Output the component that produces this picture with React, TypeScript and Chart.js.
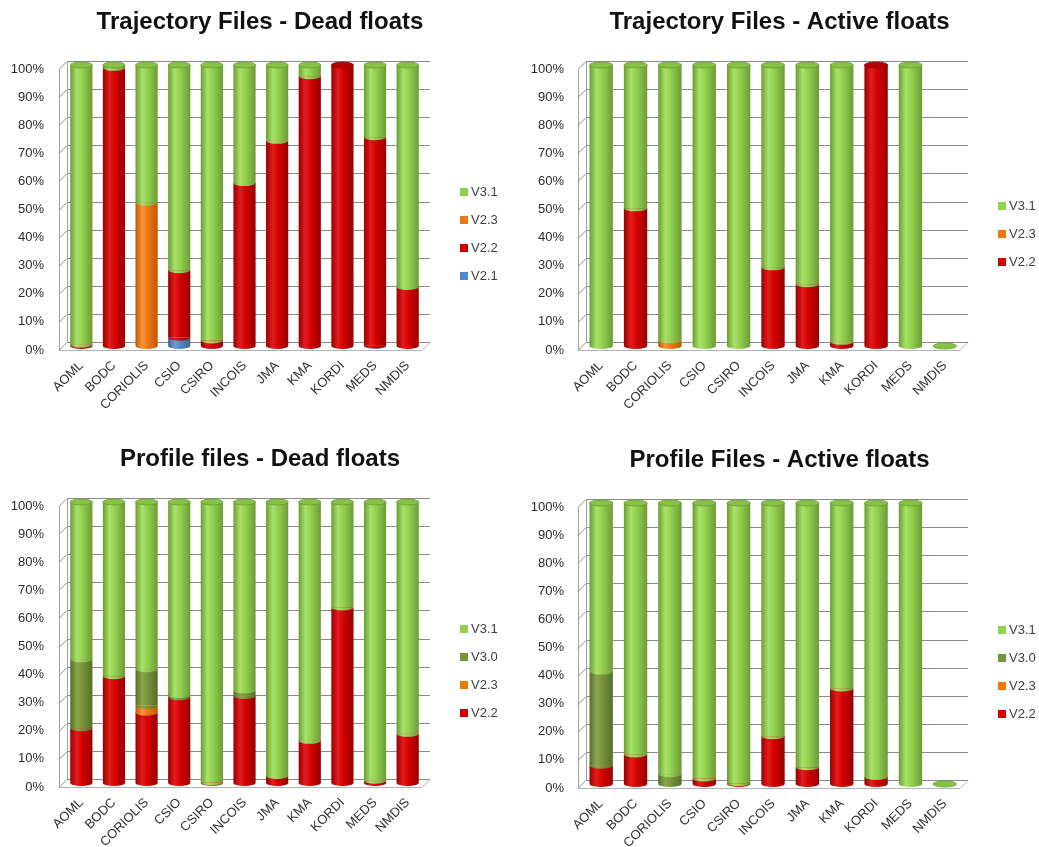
import React, { useEffect, useRef } from "react";
import { Chart, registerables } from "chart.js";

Chart.register(...registerables);

// ---------- DATA ----------
const CATEGORIES = ["AOML", "BODC", "CORIOLIS", "CSIO", "CSIRO", "INCOIS", "JMA", "KMA", "KORDI", "MEDS", "NMDIS"];
const Y_MAX = 100;
const Y_STEP = 10;

// Trajectory Files - Dead floats
const TD_V21 = [0, 0, 0, 3, 0, 0, 0, 0, 0, 0.3, 0];
const TD_V22 = [0.5, 99, 0, 24, 2, 58, 73, 96, 100, 74, 21];
const TD_V23 = [0, 0, 51, 0, 0, 0, 0, 0, 0, 0, 0];
const TD_V31 = [99.5, 1, 49, 73, 98, 42, 27, 4, 0, 25.7, 79];

// Trajectory Files - Active floats
const TA_V22 = [0, 49, 0, 0, 0, 28, 22, 1.5, 100, 0, 0];
const TA_V23 = [0, 0, 2, 0, 0, 0, 0, 0, 0, 0, 0];
const TA_V31 = [100, 51, 98, 100, 100, 72, 78, 98.5, 0, 100, 0];

// Profile files - Dead floats
const PD_V22 = [19.5, 38, 25, 30.5, 0.2, 31, 2.5, 15, 62.5, 0.8, 17.5];
const PD_V23 = [0, 0, 2.5, 0, 0, 0, 0, 0, 0, 0, 0];
const PD_V30 = [24.5, 0, 13, 0.8, 0, 2, 0, 0, 0, 0, 0];
const PD_V31 = [56, 62, 59.5, 68.7, 99.8, 67, 97.5, 85, 37.5, 99.2, 82.5];

// Profile Files - Active floats
const PA_V22 = [6.5, 10.5, 0, 2, 0.3, 17, 6, 34, 2.5, 0, 0];
const PA_V23 = [0, 0, 0, 0, 0, 0, 0, 0, 0, 0, 0];
const PA_V30 = [33.5, 0, 3.5, 0, 0, 0, 0, 0, 0, 0, 0];
const PA_V31 = [60, 89.5, 96.5, 98, 99.7, 83, 94, 66, 97.5, 100, 0];

// ---------- STYLE ----------
const FONT = "'Liberation Sans', Arial, sans-serif";
const BAR_FRACTION = 0.68;
const LABEL_SHIFT = 4; // tick labels sit at the front edge, bars at mid depth
const PLOT_TOP = 65;
const PLOT_BOTTOM = 346;

type Palette = { base: string; dark: string; light: string; cap: string; rim: string };
const PALETTES: Record<string, Palette> = {
  "V3.1": { base: "#92D050", dark: "#6C9C35", light: "#A8E268", cap: "#86C246", rim: "#6A9A32" },
  "V3.0": { base: "#77933C", dark: "#566D29", light: "#88A64A", cap: "#6E8A36", rim: "#566D29" },
  "V2.3": { base: "#EE7710", dark: "#C05800", light: "#F8923C", cap: "#E06A00", rim: "#B85200" },
  "V2.2": { base: "#D20000", dark: "#980000", light: "#E41C1C", cap: "#B80000", rim: "#900000" },
  "V2.1": { base: "#5088C8", dark: "#3A6597", light: "#6C9CD4", cap: "#4575AE", rim: "#365F8E" },
};

type Series = { label: string; values: number[] };

function makeGradient(ctx: CanvasRenderingContext2D, x0: number, x1: number, p: Palette) {
  const g = ctx.createLinearGradient(x0, 0, x1, 0);
  g.addColorStop(0, p.dark);
  g.addColorStop(0.3, p.light);
  g.addColorStop(0.55, p.base);
  g.addColorStop(1, p.dark);
  return g;
}

function barWidth(chart: any) {
  const xs = chart.scales.x;
  return (xs.width / CATEGORIES.length) * BAR_FRACTION;
}

// 3D-looking frame: back wall gridlines, left wall and floor
const framePlugin = {
  id: "frame3d",
  beforeDatasetsDraw(chart: any) {
    const { ctx, chartArea } = chart;
    const y = chart.scales.y;
    const FL = chartArea.left - 6;
    const DX = 8;
    const BR = chartArea.right + 6;
    ctx.save();
    ctx.lineWidth = 1;
    ctx.strokeStyle = "#8a8a8a";
    const front = (v: number) => Math.round(y.getPixelForValue(v) + LABEL_SHIFT) + 0.5;
    const back = (v: number) => Math.round(y.getPixelForValue(v) - LABEL_SHIFT) + 0.5;
    for (const t of y.ticks) {
      ctx.beginPath();
      ctx.moveTo(FL, front(t.value));
      ctx.lineTo(FL + DX, back(t.value));
      ctx.lineTo(BR, back(t.value));
      ctx.stroke();
    }
    // left wall verticals
    ctx.strokeStyle = "#a0a0a0";
    ctx.beginPath();
    ctx.moveTo(FL + 0.5, front(0));
    ctx.lineTo(FL + 0.5, front(Y_MAX));
    ctx.moveTo(FL + DX + 0.5, back(0));
    ctx.lineTo(FL + DX + 0.5, back(Y_MAX));
    ctx.stroke();
    // floor front & right edges
    ctx.strokeStyle = "#b4b4b4";
    ctx.beginPath();
    ctx.moveTo(FL, front(0));
    ctx.lineTo(BR - DX, front(0));
    ctx.lineTo(BR, back(0));
    ctx.stroke();
    ctx.restore();
  },
};

// Cylinder ends: curved segment bottoms and elliptical top caps
const capsPlugin = {
  id: "cylCaps",
  afterDatasetsDraw(chart: any) {
    const { ctx } = chart;
    const xs = chart.scales.x;
    const y = chart.scales.y;
    const bw = barWidth(chart);
    const rx = bw / 2;
    const ry = 3;
    const ds = chart.data.datasets;
    ctx.save();
    for (let i = 0; i < CATEGORIES.length; i++) {
      const cx = xs.getPixelForValue(i);
      let cum = 0;
      let topLabel: string | null = null;
      for (const d of ds) {
        const v = d.data[i] as number;
        if (v > 0) {
          const pal = PALETTES[d.label];
          const yb = y.getPixelForValue(cum);
          ctx.fillStyle = makeGradient(ctx, cx - rx, cx + rx, pal);
          ctx.beginPath();
          ctx.ellipse(cx, yb, rx, ry, 0, 0, Math.PI);
          ctx.fill();
          cum += v;
          topLabel = d.label;
        }
      }
      const pal = PALETTES[topLabel ?? "V3.1"];
      const yt = y.getPixelForValue(cum);
      ctx.fillStyle = pal.cap;
      ctx.strokeStyle = pal.rim;
      ctx.lineWidth = 0.8;
      ctx.beginPath();
      ctx.ellipse(cx, yt, rx, ry, 0, 0, Math.PI * 2);
      ctx.fill();
      ctx.stroke();
    }
    ctx.restore();
  },
};

// Legend drawn to the right of the plot, items in reverse stacking order
const sideLegendPlugin = {
  id: "sideLegend",
  afterDraw(chart: any) {
    const { ctx, chartArea } = chart;
    const items = [...chart.data.datasets].reverse();
    const spacing = 28;
    const cy = 233.5;
    const startY = cy - ((items.length - 1) * spacing) / 2;
    const bx = chartArea.right + 36;
    ctx.save();
    ctx.font = `13px ${FONT}`;
    ctx.textBaseline = "middle";
    ctx.textAlign = "left";
    items.forEach((d: any, k: number) => {
      const yy = Math.round(startY + k * spacing);
      ctx.fillStyle = PALETTES[d.label].base;
      ctx.fillRect(bx, yy - 4, 8, 8);
      ctx.fillStyle = "#404040";
      ctx.fillText(d.label, bx + 11, yy + 0.5);
    });
    ctx.restore();
  },
};

type Props = {
  title: string;
  series: Series[];
  left: number;
  top: number;
  width: number;
  height: number;
  yAxisWidth: number;
  rightSpace: number;
};

function StackChart({ title, series, left, top, width, height, yAxisWidth, rightSpace }: Props) {
  const ref = useRef<HTMLCanvasElement>(null);
  useEffect(() => {
    const canvas = ref.current;
    if (!canvas) return;
    const titleFont = 24;
    const titleTop = 8;
    const chart = new Chart(canvas, {
      type: "bar",
      data: {
        labels: CATEGORIES,
        datasets: series.map((s) => ({
          label: s.label,
          data: s.values,
          stack: "s",
          borderWidth: 0,
          categoryPercentage: BAR_FRACTION,
          barPercentage: 1,
          backgroundColor: (c: any) => {
            const pal = PALETTES[s.label];
            const ch = c.chart;
            const xs = ch.scales && ch.scales.x;
            if (!xs || c.dataIndex === undefined || !ch.chartArea) return pal.base;
            const cx = xs.getPixelForValue(c.dataIndex);
            const bw = barWidth(ch);
            return makeGradient(ch.ctx, cx - bw / 2, cx + bw / 2, pal);
          },
        })),
      },
      options: {
        responsive: false,
        maintainAspectRatio: false,
        animation: false,
        layout: { padding: 0 },
        plugins: {
          legend: { display: false },
          tooltip: { enabled: false },
          title: {
            display: true,
            text: title,
            color: "#111111",
            font: { family: FONT, size: titleFont, weight: "bold", lineHeight: 1.2 },
            padding: { top: titleTop, bottom: PLOT_TOP - titleTop - titleFont * 1.2 },
          },
        },
        scales: {
          x: {
            stacked: true,
            grid: { display: false, drawTicks: false },
            border: { display: false },
            ticks: {
              autoSkip: false,
              minRotation: 45,
              maxRotation: 45,
              padding: 12,
              color: "#333333",
              font: { family: FONT, size: 13 },
            },
            afterFit: (s: any) => {
              s.height = height - PLOT_BOTTOM;
            },
          },
          y: {
            stacked: true,
            min: 0,
            max: Y_MAX,
            grid: { display: false, drawTicks: false },
            border: { display: false },
            ticks: {
              stepSize: Y_STEP,
              padding: yAxisWidth - 44,
              labelOffset: LABEL_SHIFT,
              color: "#2a2a2a",
              font: { family: FONT, size: 13 },
              callback: (v: any) => `${v}%`,
            },
            afterFit: (s: any) => {
              s.width = yAxisWidth;
            },
          },
          yR: {
            type: "linear",
            position: "right",
            display: true,
            grid: { display: false, drawTicks: false },
            border: { display: false },
            ticks: { display: false },
            afterFit: (s: any) => {
              s.width = rightSpace;
            },
          },
        },
      } as any,
      plugins: [framePlugin, capsPlugin, sideLegendPlugin],
    });
    return () => chart.destroy();
  }, []);
  return (
    <canvas
      ref={ref}
      width={width}
      height={height}
      style={{ position: "absolute", left, top, width, height }}
    />
  );
}

export default function App() {
  return (
    <div
      style={{
        position: "absolute",
        left: 0,
        top: 0,
        width: 1039,
        height: 847,
        overflow: "hidden",
        background: "#ffffff",
      }}
    >
      <StackChart
        title="Trajectory Files - Dead floats"
        series={[
          { label: "V2.1", values: TD_V21 },
          { label: "V2.2", values: TD_V22 },
          { label: "V2.3", values: TD_V23 },
          { label: "V3.1", values: TD_V31 },
        ]}
        left={0}
        top={0}
        width={520}
        height={423}
        yAxisWidth={65}
        rightSpace={96}
      />
      <StackChart
        title="Trajectory Files - Active floats"
        series={[
          { label: "V2.2", values: TA_V22 },
          { label: "V2.3", values: TA_V23 },
          { label: "V3.1", values: TA_V31 },
        ]}
        left={520}
        top={0}
        width={519}
        height={423}
        yAxisWidth={64}
        rightSpace={77}
      />
      <StackChart
        title="Profile files - Dead floats"
        series={[
          { label: "V2.2", values: PD_V22 },
          { label: "V2.3", values: PD_V23 },
          { label: "V3.0", values: PD_V30 },
          { label: "V3.1", values: PD_V31 },
        ]}
        left={0}
        top={437}
        width={520}
        height={410}
        yAxisWidth={65}
        rightSpace={96}
      />
      <StackChart
        title="Profile Files - Active floats"
        series={[
          { label: "V2.2", values: PA_V22 },
          { label: "V2.3", values: PA_V23 },
          { label: "V3.0", values: PA_V30 },
          { label: "V3.1", values: PA_V31 },
        ]}
        left={520}
        top={438}
        width={519}
        height={409}
        yAxisWidth={64}
        rightSpace={77}
      />
    </div>
  );
}
